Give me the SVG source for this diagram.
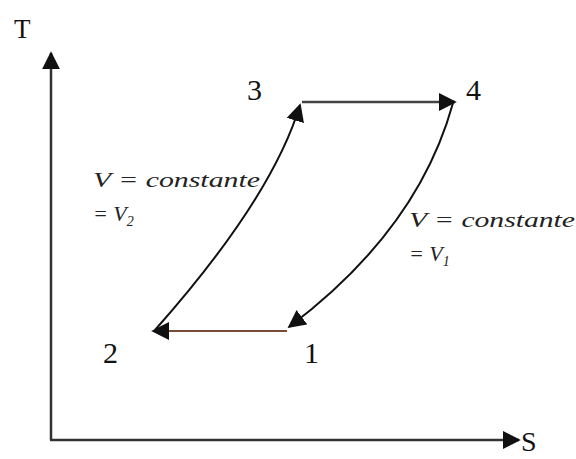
<svg xmlns="http://www.w3.org/2000/svg" width="576" height="459" viewBox="0 0 576 459">
<style>
.lbl{font-family:"Liberation Serif","Times New Roman",serif;fill:#111}
.eq{font-family:"Liberation Serif","Times New Roman",serif;font-style:italic;fill:#222;font-size:22px}
.ax{stroke:#333;stroke-width:2.5;fill:none}
.cur{stroke:#111;stroke-width:2;fill:none}
</style>
<defs>
<marker id="ahs" viewBox="0 0 10 10" refX="9" refY="5" markerWidth="18" markerHeight="18" markerUnits="userSpaceOnUse" orient="auto">
<path d="M0,0 L10,5 L0,10 z" fill="#111"/>
</marker>
</defs>
<g id="axes">
<line class="ax" x1="51" y1="440" x2="51" y2="53" marker-end="url(#ahs)"/>
<line class="ax" x1="50" y1="440" x2="519" y2="440" marker-end="url(#ahs)"/>
<text class="lbl" x="14" y="38" font-size="27">T</text>
<text class="lbl" x="521" y="451" font-size="28">S</text>
</g>
<g id="connectors">
<path id="c23" class="cur" d="M155,330 Q272,198 300,105" marker-end="url(#ahs)"/>
<line id="c34" x1="302" y1="102" x2="455" y2="102" stroke="#444" stroke-width="2.5" marker-end="url(#ahs)"/>
<path id="c41" class="cur" d="M453,103 Q418,230 289,327" marker-end="url(#ahs)"/>
<line id="c12" x1="287" y1="331" x2="153" y2="331" stroke="#7a4a3a" stroke-width="2" marker-end="url(#ahs)"/>
</g>
<g id="node1"><text class="lbl" x="304" y="363" font-size="30">1</text></g>
<g id="node2"><text class="lbl" x="103" y="363" font-size="30">2</text></g>
<g id="node3"><text class="lbl" x="247" y="100" font-size="30">3</text></g>
<g id="node4"><text class="lbl" x="466" y="100" font-size="30">4</text></g>
<g id="label-v2">
<text class="eq" x="93" y="187" textLength="167" lengthAdjust="spacingAndGlyphs">V = constante</text>
<text class="eq" x="93" y="221">= V<tspan font-size="14" dy="5">2</tspan></text>
</g>
<g id="label-v1">
<text class="eq" x="409" y="227" textLength="166" lengthAdjust="spacingAndGlyphs">V = constante</text>
<text class="eq" x="409" y="261">= V<tspan font-size="14" dy="5">1</tspan></text>
</g>
</svg>
